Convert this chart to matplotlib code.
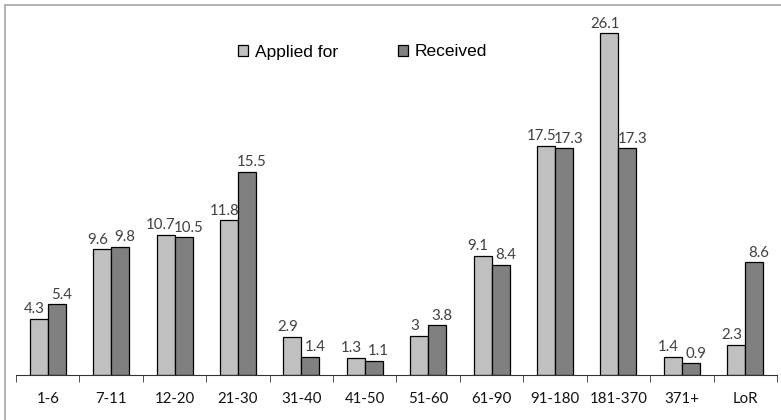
import numpy as np
import matplotlib.pyplot as plt
from matplotlib.patches import Rectangle

categories = ["1-6", "7-11", "12-20", "21-30", "31-40", "41-50", "51-60",
              "61-90", "91-180", "181-370", "371+", "LoR"]
applied = [4.3, 9.6, 10.7, 11.8, 2.9, 1.3, 3, 9.1, 17.5, 26.1, 1.4, 2.3]
received = [5.4, 9.8, 10.5, 15.5, 1.4, 1.1, 3.8, 8.4, 17.3, 17.3, 0.9, 8.6]

W, H = 781, 420
fig = plt.figure(figsize=(W / 100, H / 100), dpi=100)

# thin gray frame (top + left visible)
fig.patches.append(Rectangle((5 / W, -0.1), 1.2, (H - 5) / H + 0.1,
                             transform=fig.transFigure, fill=False,
                             edgecolor="#a6a6a6", linewidth=1.2))

ax = fig.add_axes([16 / W, (H - 375) / H, (777 - 16) / W, 370 / H])
x = np.arange(len(categories))
bw = 0.284
b1 = ax.bar(x - bw / 2, applied, bw, color="#c0c0c0", edgecolor="black",
            linewidth=0.9, label="Applied for")
b2 = ax.bar(x + bw / 2, received, bw, color="#808080", edgecolor="black",
            linewidth=0.9, label="Received")

lab_font = dict(family="Lato", fontsize=10.8, color="#404040")
for bars, vals, dx in ((b1, applied, -3.4), (b2, received, 3.4)):
    for r, v in zip(bars, vals):
        ax.annotate(f"{v:g}", (r.get_x() + r.get_width() / 2, v),
                    xytext=(dx, 4), textcoords="offset points",
                    ha="center", va="baseline", **lab_font)

ax.set_xlim(-0.5, len(categories) - 0.5)
ax.set_ylim(0, 370 / 13.1)
for s in ("top", "right", "left"):
    ax.spines[s].set_visible(False)
ax.spines["bottom"].set_color("#333333")
ax.set_yticks([])
ax.set_xticks(x)
ax.set_xticklabels(categories, family="Lato", fontsize=10.8, color="#111111")
ax.tick_params(axis="x", which="major", length=0, pad=12)
ax.set_xticks(np.arange(-0.5, len(categories)), minor=True)
ax.tick_params(axis="x", which="minor", length=5, color="#333333")

fig.legend(loc="center left", bbox_to_anchor=(238 / W, 1 - 52 / H),
           ncol=2, frameon=False, borderpad=0, borderaxespad=0,
           columnspacing=3.4, handlelength=0.6, handleheight=0.6,
           handletextpad=0.4,
           prop=dict(family="Liberation Sans", size=12.5))

fig.savefig("out.png", dpi=100)
